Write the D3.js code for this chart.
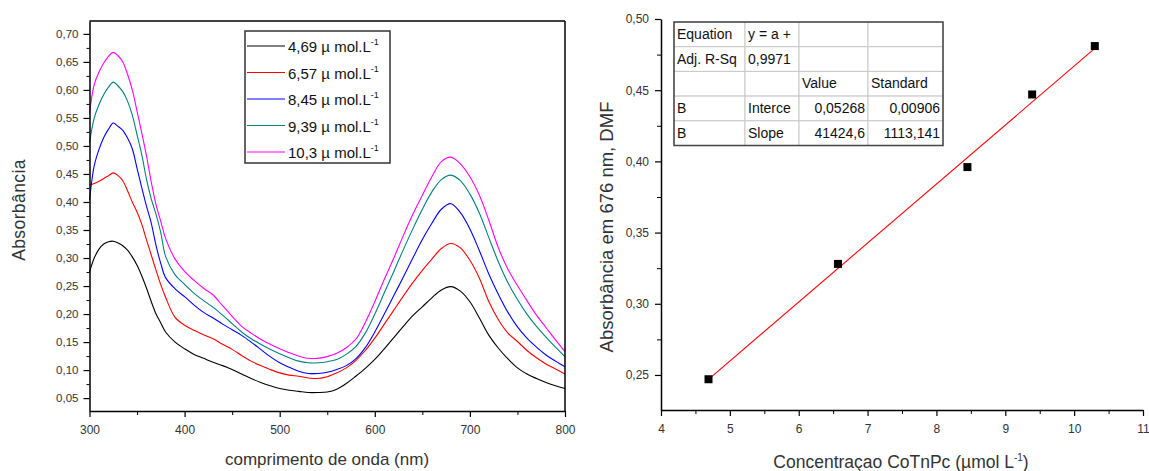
<!DOCTYPE html>
<html>
<head>
<meta charset="utf-8">
<title>Absorbancia CoTnPc</title>
<style>
body { margin:0; background:#fff; }
text { font-family: "Liberation Sans", Arial, sans-serif; }
</style>
</head>
<body>
<svg width="1149" height="471"></svg>
<script src="https://d3js.org/d3.v7.min.js"></script>
<script>
// ---- data ----
var wavelength = [300,305,310,315,320,325,330,335,340,345,350,355,360,365,370,375,380,390,400,410,420,430,440,450,460,470,480,490,500,510,520,530,540,550,560,570,580,590,600,610,620,630,640,650,660,670,680,690,700,710,720,730,740,750,760,770,780,790,800];

var abs469 = [0.275,0.300,0.316,0.325,0.329,0.330,0.327,0.322,0.314,0.302,0.287,0.268,0.246,0.222,0.200,0.184,0.168,0.150,0.138,0.128,0.121,0.114,0.108,0.101,0.093,0.085,0.078,0.072,0.067,0.064,0.062,0.060,0.060,0.061,0.066,0.076,0.089,0.103,0.119,0.138,0.158,0.178,0.197,0.213,0.229,0.243,0.249,0.241,0.222,0.193,0.162,0.139,0.120,0.104,0.093,0.085,0.078,0.072,0.067];
var abs657 = [0.430,0.433,0.437,0.442,0.447,0.452,0.447,0.438,0.420,0.400,0.382,0.360,0.332,0.305,0.278,0.252,0.230,0.194,0.180,0.171,0.163,0.156,0.146,0.137,0.126,0.116,0.108,0.101,0.095,0.091,0.089,0.086,0.085,0.088,0.095,0.104,0.117,0.135,0.157,0.182,0.207,0.232,0.256,0.278,0.298,0.317,0.326,0.318,0.296,0.264,0.222,0.190,0.166,0.151,0.135,0.122,0.111,0.102,0.093];
var abs845 = [0.403,0.465,0.494,0.515,0.530,0.541,0.535,0.528,0.514,0.495,0.460,0.425,0.392,0.362,0.322,0.290,0.265,0.245,0.231,0.216,0.203,0.193,0.182,0.172,0.162,0.150,0.137,0.124,0.113,0.105,0.098,0.094,0.094,0.096,0.101,0.108,0.120,0.140,0.168,0.200,0.233,0.266,0.300,0.333,0.362,0.387,0.397,0.381,0.352,0.313,0.271,0.235,0.203,0.177,0.157,0.141,0.127,0.116,0.106];
var abs939 = [0.505,0.550,0.574,0.592,0.605,0.614,0.607,0.597,0.580,0.555,0.520,0.484,0.440,0.405,0.378,0.345,0.303,0.270,0.253,0.237,0.224,0.212,0.198,0.183,0.168,0.156,0.146,0.137,0.129,0.122,0.116,0.113,0.113,0.115,0.119,0.128,0.142,0.166,0.200,0.238,0.276,0.315,0.352,0.387,0.418,0.440,0.448,0.438,0.414,0.380,0.336,0.293,0.256,0.226,0.200,0.178,0.159,0.141,0.124];
var abs1030 = [0.558,0.610,0.632,0.648,0.660,0.667,0.661,0.650,0.628,0.600,0.562,0.523,0.482,0.435,0.395,0.365,0.335,0.298,0.276,0.260,0.246,0.234,0.215,0.196,0.178,0.166,0.155,0.146,0.138,0.131,0.125,0.121,0.121,0.124,0.130,0.140,0.155,0.185,0.222,0.262,0.300,0.340,0.378,0.412,0.445,0.472,0.480,0.468,0.445,0.412,0.367,0.318,0.280,0.251,0.224,0.198,0.176,0.154,0.133];

var seriesNames = ["4,69", "6,57", "8,45", "9,39", "10,3"];
var seriesColors = ["#000000", "#ff0000", "#0000ff", "#008080", "#ff00ff"];

var concentration = [4.69, 6.57, 8.45, 9.39, 10.3];
var abs676 = [0.247, 0.328, 0.396, 0.447, 0.481];
var fitIntercept = 0.05268;
var fitSlope = 0.0414246;   // 41424,6 L/mol -> per umol/L

var leftXTicks = [300, 400, 500, 600, 700, 800];
var leftYTicks = [0.05,0.10,0.15,0.20,0.25,0.30,0.35,0.40,0.45,0.50,0.55,0.60,0.65,0.70];
var rightXTicks = [4, 5, 6, 7, 8, 9, 10, 11];
var rightYTicks = [0.25, 0.30, 0.35, 0.40, 0.45, 0.50];

var tableRows = [
  ["Equation", "y = a +", "", ""],
  ["Adj. R-Sq", "0,9971", "", ""],
  ["", "", "Value", "Standard"],
  ["B", "Interce", "0,05268", "0,00906"],
  ["B", "Slope", "41424,6", "1113,141"]
];

var svg = d3.select("svg");
var comma = function(f) { return function(d) { return d3.format(f)(d).replace(".", ","); }; };
var half = function(t) { var out = []; for (var i = 0; i < t.length - 1; i++) out.push((t[i] + t[i+1]) / 2); return out; };

function styleAxis(g, size) {
  g.select(".domain").attr("stroke", "#000").attr("stroke-width", 1.5);
  g.selectAll(".tick line").attr("stroke", "#000").attr("stroke-width", 1.2);
  g.selectAll(".tick text").attr("fill", "#333").style("font-size", size + "px")
    .style("font-family", "'Liberation Sans', Arial, sans-serif");
}

// ================= left chart: spectra =================
var x1 = d3.scaleLinear().domain([300, 800]).range([89.5, 565]);
var y1 = d3.scaleLinear().domain([0.027, 0.723]).range([411, 21]);

var series = [abs469, abs657, abs845, abs939, abs1030];
var line1 = d3.line()
  .x(function(d, i) { return x1(wavelength[i]); })
  .y(function(d) { return y1(d); })
  .curve(d3.curveCatmullRom);

svg.append("g").selectAll("path").data(series).enter().append("path")
  .attr("d", line1)
  .attr("fill", "none")
  .attr("stroke", function(d, i) { return seriesColors[i]; })
  .attr("stroke-width", 1.1);

// frame top/right
svg.append("line").attr("x1", x1(300)).attr("x2", x1(800)).attr("y1", y1.range()[1]).attr("y2", y1.range()[1])
  .attr("stroke", "#000").attr("stroke-width", 1.5);
svg.append("line").attr("x1", x1(800)).attr("x2", x1(800)).attr("y1", y1.range()[1]).attr("y2", y1.range()[0])
  .attr("stroke", "#000").attr("stroke-width", 1.5);

var gx1 = svg.append("g").attr("transform", "translate(0," + y1.range()[0] + ")")
  .call(d3.axisBottom(x1).tickValues(leftXTicks).tickSize(6).tickSizeOuter(0).tickPadding(8));
styleAxis(gx1, 12);
svg.append("g").attr("transform", "translate(0," + y1.range()[0] + ")")
  .call(d3.axisBottom(x1).tickValues(half(leftXTicks)).tickSize(4).tickFormat(""))
  .call(function(g) { g.select(".domain").remove(); g.selectAll("line").attr("stroke", "#000"); });

var gy1 = svg.append("g").attr("transform", "translate(" + x1(300) + ",0)")
  .call(d3.axisLeft(y1).tickValues(leftYTicks).tickSize(6).tickSizeOuter(0).tickPadding(5).tickFormat(comma(".2f")));
styleAxis(gy1, 11.5);
var minorY1 = half(leftYTicks); minorY1.unshift(0.025); minorY1.push(0.725);
svg.append("g").attr("transform", "translate(" + x1(300) + ",0)")
  .call(d3.axisLeft(y1).tickValues(minorY1.filter(function(v) { return v > 0.027 && v < 0.723; })).tickSize(3).tickFormat(""))
  .call(function(g) { g.select(".domain").remove(); g.selectAll("line").attr("stroke", "#000"); });

svg.append("text").attr("transform", "translate(25,210) rotate(-90)")
  .attr("text-anchor", "middle").style("font-size", "17.5px").style("letter-spacing", "0.4px")
  .attr("fill", "#333").text("Absorbância");
svg.append("text").attr("x", 327).attr("y", 465)
  .attr("text-anchor", "middle").style("font-size", "17px").attr("fill", "#333").text("comprimento de onda (nm)");

// legend
var leg = svg.append("g");
leg.append("rect").attr("x", 245).attr("y", 31).attr("width", 145).attr("height", 132)
  .attr("fill", "#fff").attr("stroke", "#333").attr("stroke-width", 1.5);
var legItems = leg.selectAll("g.item").data(seriesNames).enter().append("g")
  .attr("transform", function(d, i) { return "translate(0," + (46 + i * 26.5) + ")"; });
legItems.append("line").attr("x1", 247).attr("x2", 285).attr("y1", 0).attr("y2", 0)
  .attr("stroke", function(d, i) { return seriesColors[i]; }).attr("stroke-width", 1.2);
var legText = legItems.append("text").attr("x", 288).attr("y", 6).style("font-size", "15px").attr("fill", "#111");
legText.append("tspan").text(function(d) { return d + " \u00b5 mol.L"; });
legText.append("tspan").attr("dy", -7).style("font-size", "9px").text("-1");

// ================= right chart: calibration =================
var x2 = d3.scaleLinear().domain([4, 11]).range([661, 1143]);
var y2 = d3.scaleLinear().domain([0.2254, 0.50]).range([410, 19]);

var gx2 = svg.append("g").attr("transform", "translate(0," + y2.range()[0] + ")")
  .call(d3.axisBottom(x2).tickValues(rightXTicks).tickSize(6).tickSizeOuter(0).tickPadding(8).tickFormat(d3.format("d")));
styleAxis(gx2, 12);
svg.append("g").attr("transform", "translate(0," + y2.range()[0] + ")")
  .call(d3.axisBottom(x2).tickValues(half(rightXTicks)).tickSize(4).tickFormat(""))
  .call(function(g) { g.select(".domain").remove(); g.selectAll("line").attr("stroke", "#000"); });

var gy2 = svg.append("g").attr("transform", "translate(" + x2(4) + ",0)")
  .call(d3.axisLeft(y2).tickValues(rightYTicks).tickSize(6).tickSizeOuter(0).tickPadding(6).tickFormat(comma(".2f")));
styleAxis(gy2, 12);
svg.append("g").attr("transform", "translate(" + x2(4) + ",0)")
  .call(d3.axisLeft(y2).tickValues(half(rightYTicks)).tickSize(4).tickFormat(""))
  .call(function(g) { g.select(".domain").remove(); g.selectAll("line").attr("stroke", "#000"); });

// fit line
var fitX = [concentration[0], concentration[concentration.length - 1]];
svg.append("path")
  .attr("d", d3.line().x(function(d) { return x2(d); }).y(function(d) { return y2(fitIntercept + fitSlope * d); })(fitX))
  .attr("fill", "none").attr("stroke", "#ff0000").attr("stroke-width", 1.1);

svg.append("g").selectAll("rect").data(concentration).enter().append("rect")
  .attr("x", function(d) { return x2(d) - 4; })
  .attr("y", function(d, i) { return y2(abs676[i]) - 4; })
  .attr("width", 8).attr("height", 8).attr("fill", "#000");

svg.append("text").attr("transform", "translate(613,227) rotate(-90)")
  .attr("text-anchor", "middle").style("font-size", "18.5px").attr("fill", "#333").text("Absorbância em 676 nm, DMF");
var xt2 = svg.append("text").attr("x", 901).attr("y", 468)
  .attr("text-anchor", "middle").style("font-size", "17.5px").attr("fill", "#333");
xt2.append("tspan").text("Concentraçao CoTnPc (\u00b5mol L");
xt2.append("tspan").attr("dy", -7).style("font-size", "10px").text("-1");
xt2.append("tspan").attr("dy", 7).text(")");

// results table
var colX = [674, 745, 799, 868, 943];
var rowH = 24.7, tableTop = 22;
var tbl = svg.append("g");
tableRows.forEach(function(row, r) {
  row.forEach(function(cell, c) {
    tbl.append("rect").attr("x", colX[c]).attr("y", tableTop + r * rowH)
      .attr("width", colX[c + 1] - colX[c]).attr("height", rowH)
      .attr("fill", "#fff").attr("stroke", "#c8c8c8").attr("stroke-width", 1);
    if (cell === "") return;
    var numeric = r >= 3 && c >= 2;
    tbl.append("text")
      .attr("x", numeric ? colX[c + 1] - 3 : colX[c] + 3)
      .attr("y", tableTop + r * rowH + 17)
      .attr("text-anchor", numeric ? "end" : "start")
      .style("font-size", "14px").attr("fill", "#111").text(cell);
  });
});
tbl.append("rect").attr("x", colX[0]).attr("y", tableTop)
  .attr("width", colX[4] - colX[0]).attr("height", rowH * tableRows.length)
  .attr("fill", "none").attr("stroke", "#444").attr("stroke-width", 1.5);
</script>
</body>
</html>
